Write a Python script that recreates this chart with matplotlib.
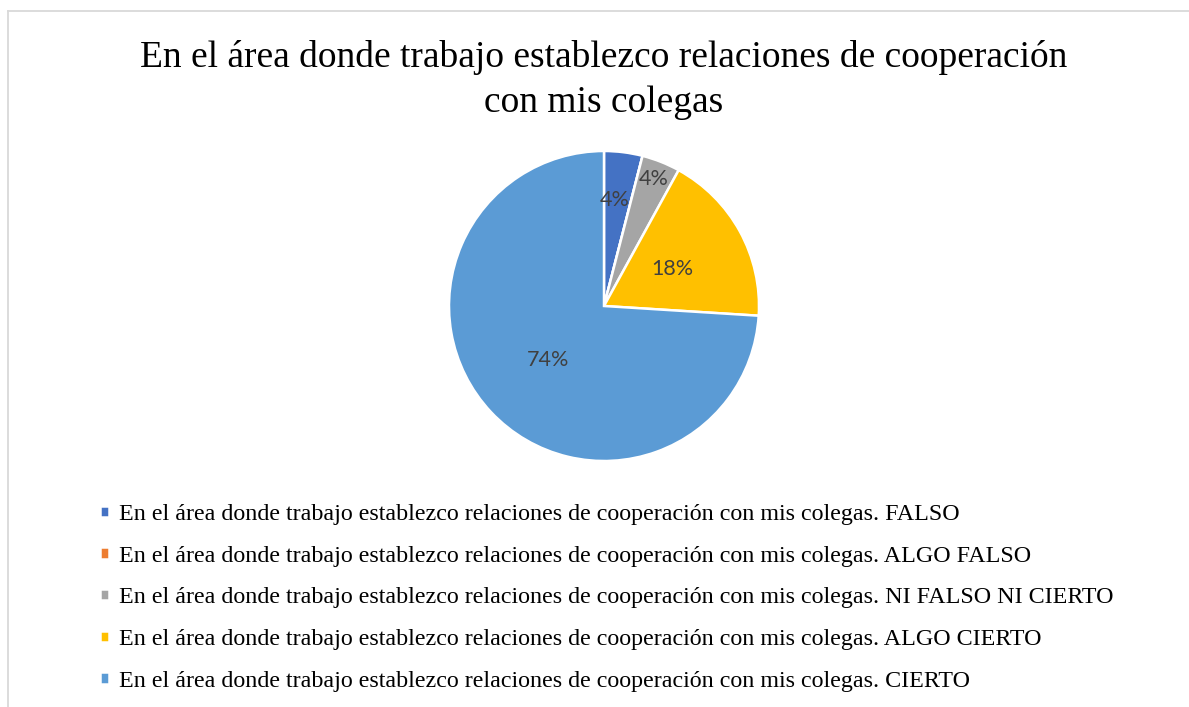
import matplotlib.pyplot as plt
from matplotlib.lines import Line2D
import numpy as np

# Data
prefix = "En el área donde trabajo establezco relaciones de cooperación con mis colegas. "
categories = ["FALSO", "ALGO FALSO", "NI FALSO NI CIERTO", "ALGO CIERTO", "CIERTO"]
counts = [2, 0, 2, 9, 37]
colors = ["#4472C4", "#ED7D31", "#A5A5A5", "#FFC000", "#5B9BD5"]
title = "En el área donde trabajo establezco relaciones de cooperación\ncon mis colegas"

# label placement (angle in degrees, fraction of radius) - Excel "best fit"
label_place = [(84.1, 0.69), None, (68.5, 0.88), (28.5, 0.50), (224.0, 0.50)]

W, H = 1189, 707
fig = plt.figure(figsize=(W / 100, H / 100), dpi=100)

# chart area border (only left/top visible in the crop)
fig.add_artist(Line2D([7.5 / W, 7.5 / W], [0, 1 - 10.5 / H], color="#D9D9D9", lw=1.3))
fig.add_artist(Line2D([7.5 / W, 1], [1 - 10.5 / H, 1 - 10.5 / H], color="#D9D9D9", lw=1.3))

cx, cy, r = 604, 306, 155
ax = fig.add_axes([(cx - r) / W, 1 - (cy + r) / H, 2 * r / W, 2 * r / H])
wedges, _ = ax.pie(counts, colors=colors, startangle=90, counterclock=False,
                   radius=1.0, wedgeprops=dict(edgecolor="white", linewidth=1.8))
ax.set_xlim(-1, 1)
ax.set_ylim(-1, 1)
ax.set_aspect("equal")
ax.axis("off")

total = sum(counts)
for val, place in zip(counts, label_place):
    if place is None or val == 0:
        continue
    ang, frac = place
    x = frac * np.cos(np.radians(ang))
    y = frac * np.sin(np.radians(ang))
    ax.text(x, y, f"{round(100 * val / total)}%", ha="center", va="center",
            fontsize=15.5, color="#404040", family="Lato")

fig.text(cx / W, 1 - 80 / H, title, ha="center", va="center", multialignment="center",
         fontsize=27, family="Liberation Serif", color="black", linespacing=1.36)

fig.legend(wedges, [prefix + c for c in categories], loc="upper left",
           bbox_to_anchor=(88 / W, 1 - 492 / H), frameon=False, borderpad=0,
           prop=dict(family="Liberation Serif", size=17.3),
           handlelength=0.36, handleheight=0.36, handletextpad=0.42,
           labelspacing=0.86)

fig.savefig("out.png", dpi=100)
